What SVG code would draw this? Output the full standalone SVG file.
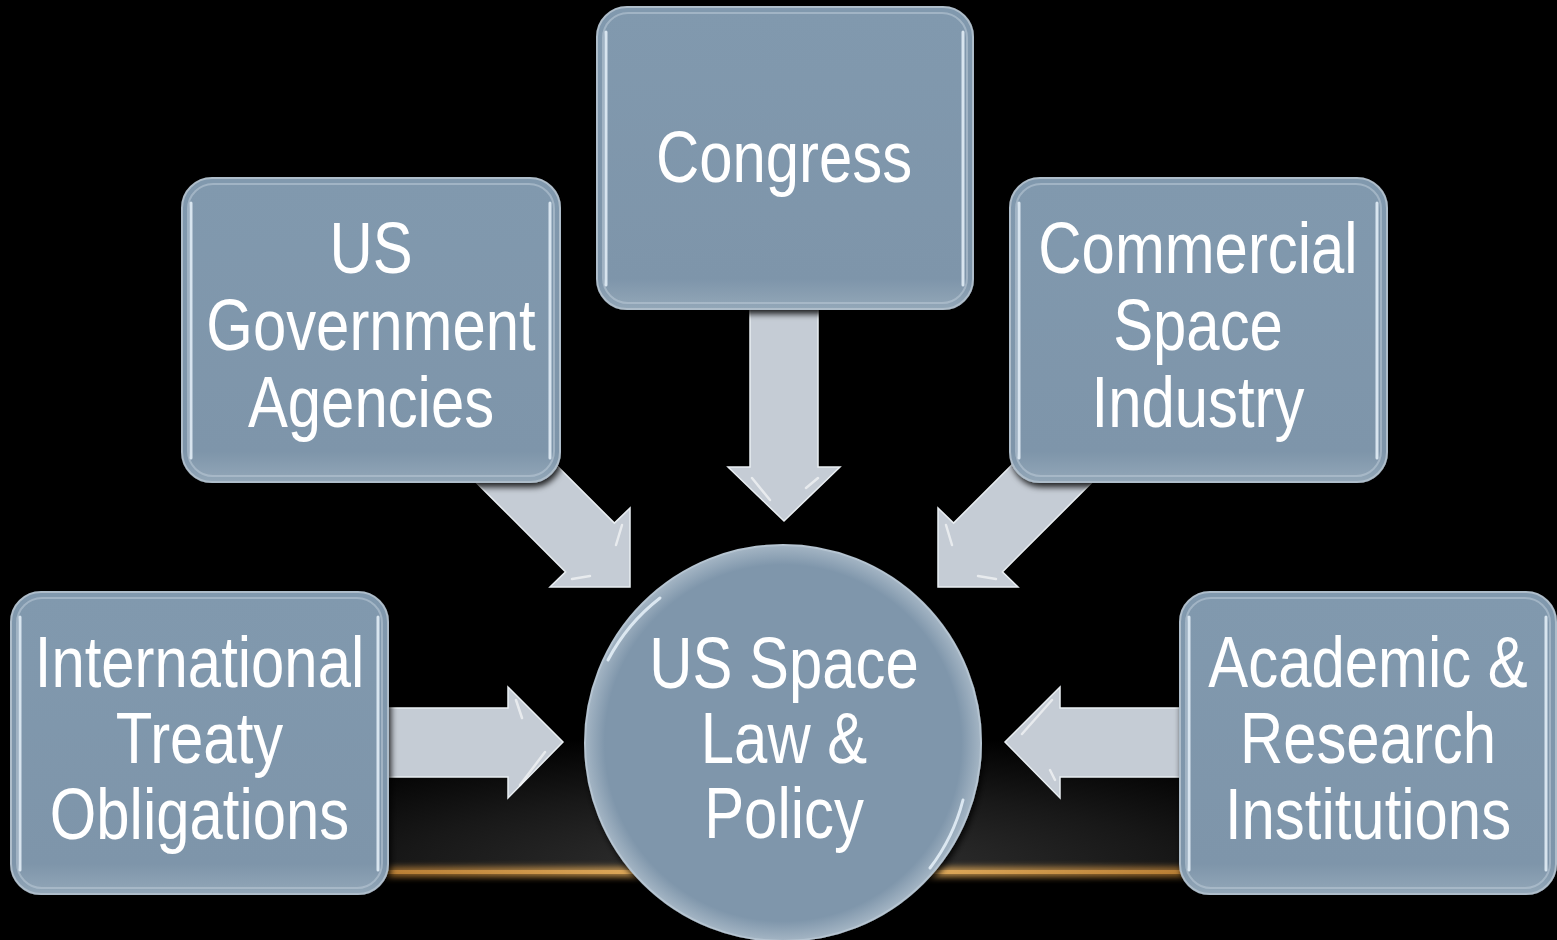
<svg xmlns="http://www.w3.org/2000/svg" width="1557" height="940" viewBox="0 0 1557 940">
<defs>
  <radialGradient id="glow" cx="784" cy="872" r="640" gradientUnits="userSpaceOnUse" gradientTransform="translate(784 872) scale(1 0.22) translate(-784 -872)">
    <stop offset="0" stop-color="#363636"/>
    <stop offset="0.6" stop-color="#181818"/>
    <stop offset="1" stop-color="#000"/>
  </radialGradient>
  <linearGradient id="gold" x1="150" y1="0" x2="1420" y2="0" gradientUnits="userSpaceOnUse">
    <stop offset="0" stop-color="#c98a3a" stop-opacity="0"/>
    <stop offset="0.2" stop-color="#c98a3a" stop-opacity="0.8"/>
    <stop offset="0.5" stop-color="#f0c070"/>
    <stop offset="0.8" stop-color="#c98a3a" stop-opacity="0.8"/>
    <stop offset="1" stop-color="#c98a3a" stop-opacity="0"/>
  </linearGradient>
  <filter id="blur4" x="-10%" y="-200%" width="120%" height="500%"><feGaussianBlur stdDeviation="3"/></filter>
  <filter id="shadow" x="-10%" y="-10%" width="125%" height="125%">
    <feDropShadow dx="2" dy="4" stdDeviation="3" flood-color="#000" flood-opacity="0.85"/>
  </filter>
  <linearGradient id="boxfill" x1="0" y1="0" x2="0" y2="1">
    <stop offset="0" stop-color="#8199ae"/>
    <stop offset="0.9" stop-color="#7e95aa"/>
    <stop offset="1" stop-color="#93a7b8"/>
  </linearGradient>
  <radialGradient id="circfill" cx="0.5" cy="0.5" r="0.5">
    <stop offset="0" stop-color="#7f96ab"/>
    <stop offset="0.9" stop-color="#7f96ab"/>
    <stop offset="1" stop-color="#a4b5c4"/>
  </radialGradient>
</defs>
<style>
  .box { fill: url(#boxfill); stroke: #aebdca; stroke-width: 2; }
  .hl { fill: none; stroke: #e8f2fa; stroke-width: 3; stroke-linecap: round; opacity: 0.85; }
  .inner { fill: none; stroke: #b8c7d4; stroke-width: 2; opacity: 0.6; }
  .arrow { fill: #c5ccd5; stroke: #e9eef2; stroke-width: 1.5; stroke-linejoin: miter; }
  .bev { fill: none; stroke: #ffffff; stroke-width: 2.5; stroke-linecap: round; opacity: 0.6; }
  .lbl { font-family: "Liberation Sans Narrow", "Arial Narrow", "Liberation Sans", sans-serif; font-size: 73px; fill: #ffffff; text-anchor: middle; }
</style>

<rect x="0" y="0" width="1557" height="940" fill="#000"/>
<rect x="0" y="600" width="1557" height="272" fill="url(#glow)"/>
<rect x="150" y="867" width="1270" height="10" fill="url(#gold)" filter="url(#blur4)" opacity="0.9"/>
<rect x="150" y="870" width="1270" height="4" fill="url(#gold)"/>

<g id="connectors">
  <g id="arrow-congress">
    <polygon class="arrow" points="750,300 818,300 818,467 840,467 784,521 728,467 750,467"/>
    <path class="bev" d="M752,478 L770,500 M818,478 L806,488"/>
  </g>
  <g id="arrow-gov">
    <polygon class="arrow" points="455.6,461.9 504.4,413.1 614.4,523.1 630,508 630,587 550,587 565.6,571.9"/>
    <path class="bev" d="M622,525 L616,545 M572,579 L590,576"/>
  </g>
  <g id="arrow-comm">
    <polygon class="arrow" points="1112.4,461.9 1063.6,413.1 953.6,523.1 938,508 938,587 1018,587 1002.4,571.9"/>
    <path class="bev" d="M946,525 L952,545 M996,579 L978,576"/>
  </g>
  <g id="arrow-treaty">
    <polygon class="arrow" points="380,708 508,708 508,687 563,742 508,798 508,777 380,777"/>
    <path class="bev" d="M516,700 L522,718 M545,752 L520,785"/>
  </g>
  <g id="arrow-acad">
    <polygon class="arrow" points="1190,708 1060,708 1060,687 1005,742 1060,798 1060,777 1190,777"/>
    <path class="bev" d="M1052,700 L1022,734 M1050,770 L1055,780"/>
  </g>
</g>

<g id="node-congress" filter="url(#shadow)">
  <rect class="box" x="597" y="7" width="376" height="302" rx="30"/>
  <rect class="inner" x="603" y="13" width="364" height="290" rx="25"/>
  <path class="hl" d="M606,32 L606,285 M963,32 L963,285"/>
  <text class="lbl" transform="translate(784 0) scale(0.82 1)" x="0" y="182">Congress</text>
</g>

<g id="node-gov" filter="url(#shadow)">
  <rect class="box" x="182" y="178" width="378" height="304" rx="30"/>
  <rect class="inner" x="188" y="184" width="366" height="292" rx="25"/>
  <path class="hl" d="M191,203 L191,458 M550,203 L550,458"/>
  <g transform="translate(371 0) scale(0.82 1)">
    <text class="lbl" x="0" y="273">US</text>
    <text class="lbl" x="0" y="350">Government</text>
    <text class="lbl" x="0" y="427">Agencies</text>
  </g>
</g>

<g id="node-comm" filter="url(#shadow)">
  <rect class="box" x="1010" y="178" width="377" height="304" rx="30"/>
  <rect class="inner" x="1016" y="184" width="365" height="292" rx="25"/>
  <path class="hl" d="M1019,203 L1019,458 M1377,203 L1377,458"/>
  <g transform="translate(1198 0) scale(0.82 1)">
    <text class="lbl" x="0" y="273">Commercial</text>
    <text class="lbl" x="0" y="350">Space</text>
    <text class="lbl" x="0" y="427">Industry</text>
  </g>
</g>

<g id="node-treaty" filter="url(#shadow)">
  <rect class="box" x="11" y="592" width="377" height="302" rx="30"/>
  <rect class="inner" x="17" y="598" width="365" height="290" rx="25"/>
  <path class="hl" d="M20,617 L20,870 M378,617 L378,870"/>
  <g transform="translate(199.5 0) scale(0.82 1)">
    <text class="lbl" x="0" y="687">International</text>
    <text class="lbl" x="0" y="763">Treaty</text>
    <text class="lbl" x="0" y="839">Obligations</text>
  </g>
</g>

<g id="node-acad" filter="url(#shadow)">
  <rect class="box" x="1180" y="592" width="376" height="302" rx="30"/>
  <rect class="inner" x="1186" y="598" width="364" height="290" rx="25"/>
  <path class="hl" d="M1189,617 L1189,870 M1546,617 L1546,870"/>
  <g transform="translate(1368 0) scale(0.82 1)">
    <text class="lbl" x="0" y="687">Academic &amp;</text>
    <text class="lbl" x="0" y="763">Research</text>
    <text class="lbl" x="0" y="839">Institutions</text>
  </g>
</g>

<g id="node-center" filter="url(#shadow)">
  <circle cx="783" cy="743" r="198" fill="url(#circfill)" stroke="#b5c4d1" stroke-width="2"/>
  <path class="hl" d="M608,660 A190,190 0 0 1 660,598" opacity="0.7"/>
  <path class="hl" d="M963,800 A190,190 0 0 1 930,868" opacity="0.7"/>
  <g transform="translate(784 0) scale(0.82 1)">
    <text class="lbl" x="0" y="688">US Space</text>
    <text class="lbl" x="0" y="763">Law &amp;</text>
    <text class="lbl" x="0" y="838">Policy</text>
  </g>
</g>
</svg>
